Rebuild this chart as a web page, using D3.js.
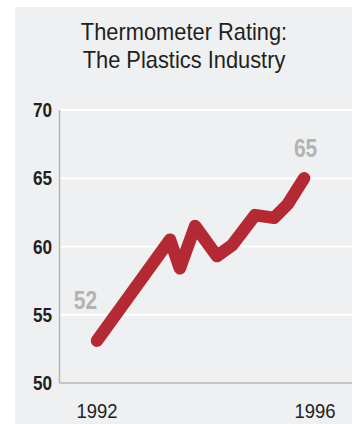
<!DOCTYPE html>
<html>
<head>
<meta charset="utf-8">
<script src="https://cdn.jsdelivr.net/npm/d3@7"></script>
<style>
  body { margin: 0; background: #fff; }
  svg { display: block; }
</style>
</head>
<body>
<div id="chart"></div>
<script>
const titleLines = ["Thermometer Rating:", "The Plastics Industry"];

// decimal year, rating
const years = [1992.0, 1993.34, 1993.52, 1993.8, 1994.2, 1994.48, 1994.9, 1995.25, 1995.5, 1995.8];
const ratings = [53.1, 60.5, 58.4, 61.5, 59.3, 60.1, 62.3, 62.1, 63.1, 65.0];

const yTicks = [50, 55, 60, 65, 70];
const xTicks = [1992, 1996];
const endLabels = [{ year: 1992.0, rating: 53.1, text: "52" }, { year: 1995.8, rating: 65.0, text: "65" }];

const W = 357, H = 424;
const panel = { left: 15, top: 7, right: 352, bottom: 424 };
const FONT = "'Liberation Sans', Arial, sans-serif";

const svg = d3.select("#chart").append("svg")
    .attr("width", W)
    .attr("height", H);

svg.append("rect")
    .attr("x", panel.left)
    .attr("y", panel.top)
    .attr("width", panel.right - panel.left)
    .attr("height", panel.bottom - panel.top)
    .attr("fill", "#eff0f2");

// title, slightly condensed
svg.append("text")
    .attr("transform", "translate(184, 40) scale(0.95, 1)")
    .attr("text-anchor", "middle")
    .style("font-family", FONT)
    .style("font-size", "23px")
    .style("fill", "#231f20")
    .selectAll("tspan")
    .data(titleLines)
    .enter().append("tspan")
    .attr("x", 0)
    .attr("dy", (d, i) => i === 0 ? 0 : 28)
    .text(d => d);

const xScale = d3.scaleLinear().domain([1992, 1996]).range([97, 315]);
const yScale = d3.scaleLinear().domain([50, 70]).range([383, 110]);
const axisLeft = 59.5;

// white gridlines
svg.selectAll(".grid")
    .data(yTicks.filter(d => d > 50))
    .enter().append("line")
    .attr("x1", axisLeft)
    .attr("x2", panel.right)
    .attr("y1", d => yScale(d))
    .attr("y2", d => yScale(d))
    .attr("stroke", "#fff")
    .attr("stroke-width", 2.2);

svg.append("line")
    .attr("x1", axisLeft).attr("x2", axisLeft)
    .attr("y1", yScale(70)).attr("y2", yScale(50))
    .attr("stroke", "#b5b5b5").attr("stroke-width", 1.5);

svg.append("line")
    .attr("x1", axisLeft).attr("x2", panel.right)
    .attr("y1", yScale(50)).attr("y2", yScale(50))
    .attr("stroke", "#b5b5b5").attr("stroke-width", 1.5);

svg.selectAll(".ylab")
    .data(yTicks)
    .enter().append("text")
    .attr("transform", d => `translate(52, ${yScale(d) + 7}) scale(0.86, 1)`)
    .attr("text-anchor", "end")
    .style("font-family", FONT)
    .style("font-weight", "bold")
    .style("font-size", "20px")
    .style("fill", "#231f20")
    .text(d => d);

svg.selectAll(".xlab")
    .data(xTicks)
    .enter().append("text")
    .attr("transform", d => `translate(${xScale(d)}, 418) scale(0.88, 1)`)
    .attr("text-anchor", "middle")
    .style("font-family", FONT)
    .style("font-size", "21px")
    .style("fill", "#231f20")
    .text(d => d);

const line = d3.line()
    .x(d => xScale(d[0]))
    .y(d => yScale(d[1]));

svg.append("path")
    .datum(years.map((y, i) => [y, ratings[i]]))
    .attr("d", line)
    .attr("fill", "none")
    .attr("stroke", "#b32a35")
    .attr("stroke-width", 12.5)
    .attr("stroke-linecap", "round")
    .attr("stroke-linejoin", "round");

svg.selectAll(".endlab")
    .data(endLabels)
    .enter().append("text")
    .attr("transform", (d, i) => i === 0
        ? `translate(${xScale(d.year) - 11.5}, 309) scale(0.84, 1)`
        : `translate(${xScale(d.year) + 1.5}, 157) scale(0.84, 1)`)
    .attr("text-anchor", "middle")
    .style("font-family", FONT)
    .style("font-weight", "bold")
    .style("font-size", "25px")
    .style("fill", "#b3b3b3")
    .text(d => d.text);
</script>
</body>
</html>
